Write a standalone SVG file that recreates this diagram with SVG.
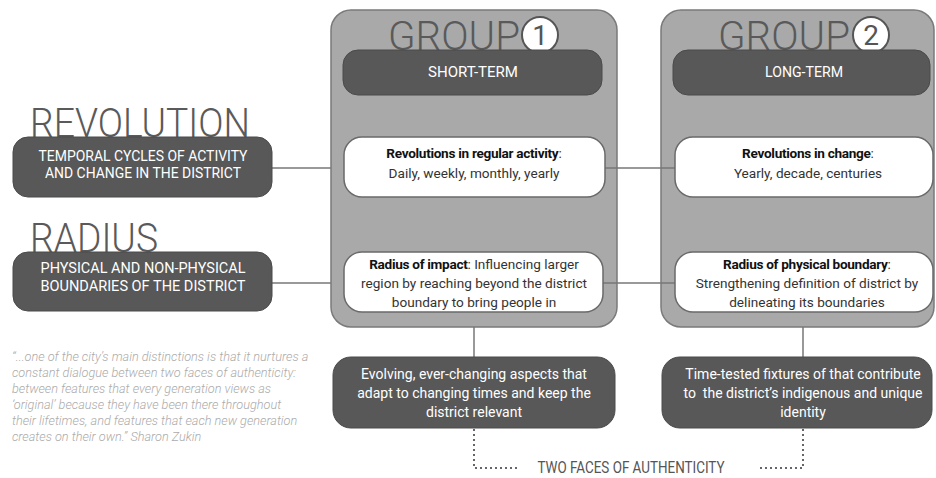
<svg xmlns="http://www.w3.org/2000/svg" width="936" height="478" viewBox="0 0 936 478">
<style>
.panel{fill:#a9a9a9;stroke:#7a7a7a;stroke-width:1.5}
.dark{fill:#585858;stroke:#4a4a4a;stroke-width:1}
.white{fill:#ffffff;stroke:#6a6a6a;stroke-width:1.5}
.big{font-family:Roboto,"Liberation Sans",sans-serif;font-weight:300;fill:#5a5a5a}
.cap{font-family:Roboto,"Liberation Sans",sans-serif;font-size:14px;fill:#ffffff;text-anchor:middle}
.body{font-family:Roboto,"Liberation Sans",sans-serif;font-size:13.6px;fill:#333333;text-anchor:middle}
.bodyw{font-family:Roboto,"Liberation Sans",sans-serif;font-size:14px;fill:#ffffff;text-anchor:middle}
.b{font-weight:bold;fill:#111111;letter-spacing:-0.3px}
.quote{font-family:Roboto,"Liberation Sans",sans-serif;font-style:italic;font-weight:300;font-size:12.7px;fill:#ababab}
.num{font-family:Roboto,"Liberation Sans",sans-serif;font-size:28px;fill:#555555;text-anchor:middle}
.conn{stroke:#777777;stroke-width:1.5;fill:none}
.dot{stroke:#666666;stroke-width:2;stroke-dasharray:2 3;fill:none}
</style>

<g id="connectors">
<line class="conn" x1="272" y1="168" x2="344" y2="168"/>
<line class="conn" x1="272" y1="283" x2="344" y2="283"/>
</g>

<g id="group1">
<rect class="panel" x="331" y="10" width="286" height="317" rx="20"/>
<text class="big" x="388" y="50" font-size="40" textLength="132" lengthAdjust="spacingAndGlyphs">GROUP</text>
<circle cx="540" cy="35" r="18" fill="#ffffff" stroke="#555555" stroke-width="2"/>
<text class="num" x="540" y="45">1</text>
<rect class="dark" x="343" y="50" width="259" height="45" rx="15"/>
<text class="cap" x="473" y="77" textLength="90" lengthAdjust="spacingAndGlyphs">SHORT-TERM</text>
</g>

<g id="group2">
<rect class="panel" x="661" y="10" width="273" height="317" rx="20"/>
<text class="big" x="718" y="50" font-size="40" textLength="132" lengthAdjust="spacingAndGlyphs">GROUP</text>
<circle cx="871" cy="35" r="18" fill="#ffffff" stroke="#555555" stroke-width="2"/>
<text class="num" x="871" y="45">2</text>
<rect class="dark" x="673" y="50" width="257" height="45" rx="15"/>
<text class="cap" x="804" y="77" textLength="78" lengthAdjust="spacingAndGlyphs">LONG-TERM</text>
</g>

<g id="connectors2">
<line class="conn" x1="605" y1="168" x2="675" y2="168"/>
<line class="conn" x1="603" y1="283" x2="675" y2="283"/>
<line class="conn" x1="474" y1="327" x2="474" y2="357"/>
<line class="conn" x1="803" y1="327" x2="803" y2="357"/>
<polyline class="dot" points="474,429 474,468 518,468"/>
<polyline class="dot" points="803,429 803,468 760,468"/>
</g>

<g id="revolution">
<text class="big" x="30" y="137" font-size="41" textLength="220" lengthAdjust="spacingAndGlyphs">REVOLUTION</text>
<rect class="dark" x="13" y="137" width="259" height="60" rx="15"/>
<text class="cap" x="143" y="161" textLength="209" lengthAdjust="spacingAndGlyphs">TEMPORAL CYCLES OF ACTIVITY</text>
<text class="cap" x="143" y="178" textLength="196" lengthAdjust="spacingAndGlyphs">AND CHANGE IN THE DISTRICT</text>
</g>

<g id="radius">
<text class="big" x="30" y="252" font-size="41" textLength="128" lengthAdjust="spacingAndGlyphs">RADIUS</text>
<rect class="dark" x="13" y="252" width="259" height="59" rx="15"/>
<text class="cap" x="143" y="273" textLength="205" lengthAdjust="spacingAndGlyphs">PHYSICAL AND NON-PHYSICAL</text>
<text class="cap" x="143" y="291" textLength="205" lengthAdjust="spacingAndGlyphs">BOUNDARIES OF THE DISTRICT</text>
</g>

<g id="rev-short">
<rect class="white" x="344" y="137" width="261" height="60" rx="18"/>
<text class="body" x="474" y="158"><tspan class="b">Revolutions in regular activity</tspan>:</text>
<text class="body" x="474" y="178">Daily, weekly, monthly, yearly</text>
</g>

<g id="rev-long">
<rect class="white" x="675" y="137" width="258" height="60" rx="18"/>
<text class="body" x="808" y="158"><tspan class="b">Revolutions in change</tspan>:</text>
<text class="body" x="808" y="178">Yearly, decade, centuries</text>
</g>

<g id="rad-short">
<rect class="white" x="344" y="252" width="259" height="60" rx="18"/>
<text class="body" x="474" y="269"><tspan class="b">Radius of impact</tspan>: Influencing larger</text>
<text class="body" x="474" y="288">region by reaching beyond the district</text>
<text class="body" x="474" y="307">boundary to bring people in</text>
</g>

<g id="rad-long">
<rect class="white" x="675" y="252" width="258" height="60" rx="18"/>
<text class="body" x="807" y="269"><tspan class="b">Radius of physical boundary</tspan>:</text>
<text class="body" x="807" y="288">Strengthening definition of district by</text>
<text class="body" x="807" y="307">delineating its boundaries</text>
</g>

<g id="evolving">
<rect class="dark" x="333" y="357" width="282" height="71" rx="18"/>
<text class="bodyw" x="474" y="379">Evolving, ever-changing aspects that</text>
<text class="bodyw" x="474" y="398">adapt to changing times and keep the</text>
<text class="bodyw" x="474" y="417">district relevant</text>
</g>

<g id="timetested">
<rect class="dark" x="662" y="357" width="270" height="71" rx="18"/>
<text class="bodyw" x="803" y="379">Time-tested fixtures of that contribute</text>
<text class="bodyw" x="803" y="398" xml:space="preserve">to  the district’s indigenous and unique</text>
<text class="bodyw" x="803" y="417">identity</text>
</g>

<g id="authenticity">
<text x="631" y="473" font-family="Roboto, 'Liberation Sans', sans-serif" font-size="17" fill="#555555" text-anchor="middle" textLength="187" lengthAdjust="spacingAndGlyphs">TWO FACES OF AUTHENTICITY</text>
</g>

<g id="quote">
<text class="quote" x="12" y="361">“...one of the city’s main distinctions is that it nurtures a</text>
<text class="quote" x="12" y="377">constant dialogue between two faces of authenticity:</text>
<text class="quote" x="12" y="393">between features that every generation views as</text>
<text class="quote" x="12" y="409">‘original’ because they have been there throughout</text>
<text class="quote" x="12" y="425">their lifetimes, and features that each new generation</text>
<text class="quote" x="12" y="441">creates on their own.”  Sharon Zukin</text>
</g>
</svg>
